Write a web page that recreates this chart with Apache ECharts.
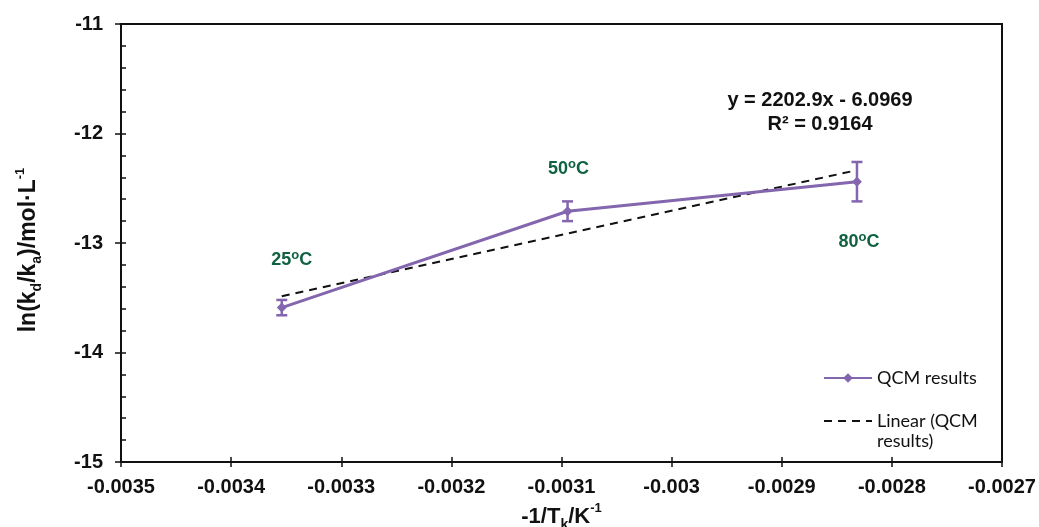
<!DOCTYPE html>
<html>
<head>
<meta charset="utf-8">
<script src="https://cdn.jsdelivr.net/npm/echarts@6/dist/echarts.min.js"></script>
<style>
  html, body { margin: 0; padding: 0; background: #ffffff; }
  #chart { width: 1039px; height: 527px; }
</style>
</head>
<body>
<div id="chart"></div>
<script>
// Measured points: temperature, inverse temperature and log ratio with error
const tempLabels = ['25', '50', '80'];
const invTemp = [-0.003354, -0.0030945, -0.0028317];
const lnRatio = [-13.59, -12.71, -12.44];
const lnRatioErr = [0.07, 0.09, 0.18];

// Linear trend line as reported
const fitSlope = 2202.9;
const fitIntercept = -6.0969;
const fitR2 = '0.9164';

const seriesNames = ['QCM results', 'Linear (QCM\nresults)'];

const purple = '#8466ae';
const green = '#106242';
const boldFont = 'Liberation Sans';

const pointData = invTemp.map((x, i) => [x, lnRatio[i]]);
const errData = invTemp.map((x, i) => [x, lnRatio[i] - lnRatioErr[i], lnRatio[i] + lnRatioErr[i]]);
const fitX = [invTemp[0], invTemp[invTemp.length - 1]];
const fitData = fitX.map(x => [x, fitSlope * x + fitIntercept]);

// Offsets of the temperature captions relative to their points
const captionOffsets = [[10, -48], [1, -42], [2, 60]];

const chart = echarts.init(document.getElementById('chart'));

const fmtX = v => String(+v.toFixed(4));

const titleRich = size => ({
  sub: { fontFamily: boldFont, fontWeight: 'bold', fontSize: Math.round(size * 0.62), lineHeight: 30, verticalAlign: 'bottom', color: '#111' },
  sup: { fontFamily: boldFont, fontWeight: 'bold', fontSize: Math.round(size * 0.58), lineHeight: 30, verticalAlign: 'top', color: '#111' }
});

const legendText = { fontFamily: 'Lato', fontSize: 18, color: '#111', lineHeight: 20 };

chart.setOption({
  animation: false,
  backgroundColor: '#ffffff',
  grid: {
    left: 121, right: 37, top: 24, bottom: 65,
    outerBoundsMode: 'none',
    containLabel: false,
    show: true, borderColor: '#111', borderWidth: 2, backgroundColor: 'transparent'
  },
  xAxis: [
    {
      type: 'value', min: -0.0035, max: -0.0027, interval: 0.0001,
      position: 'bottom',
      axisLine: { show: true, onZero: false, lineStyle: { color: '#111', width: 2 } },
      axisTick: { show: true, inside: false, length: 5, lineStyle: { color: '#111', width: 1.5 } },
      splitLine: { show: false },
      axisLabel: {
        margin: 15, color: '#111', fontFamily: boldFont, fontWeight: 'bold', fontSize: 20,
        formatter: fmtX
      },
      name: '-1/T{sub|k}/K{sup|-1}',
      nameLocation: 'middle',
      nameGap: 39,
      nameTextStyle: {
        color: '#111', fontFamily: boldFont, fontWeight: 'bold', fontSize: 22, lineHeight: 30,
        rich: titleRich(22)
      }
    },
    {
      type: 'value', min: -0.0035, max: -0.0027, interval: 0.0001,
      position: 'bottom',
      axisLine: { show: false, onZero: false },
      axisTick: { show: true, inside: true, length: 5, lineStyle: { color: '#111', width: 1.5 } },
      axisLabel: { show: false },
      splitLine: { show: false }
    }
  ],
  yAxis: [
    {
      type: 'value', min: -15, max: -11, interval: 1,
      position: 'left',
      axisLine: { show: true, onZero: false, lineStyle: { color: '#111', width: 2 } },
      axisTick: { show: true, inside: false, length: 6, lineStyle: { color: '#111', width: 1.5 } },
      splitLine: { show: false },
      axisLabel: { margin: 18, color: '#111', fontFamily: boldFont, fontWeight: 'bold', fontSize: 20 },
      name: 'ln(k{sub|d}/k{sub|a})/mol·L{sup|-1}',
      nameLocation: 'middle',
      nameRotate: 90,
      nameGap: 77,
      nameTextStyle: {
        color: '#111', fontFamily: boldFont, fontWeight: 'bold', fontSize: 23, lineHeight: 30,
        padding: [0, 14, 0, 0],
        rich: titleRich(23)
      }
    },
    {
      type: 'value', min: -15, max: -11, interval: 0.2,
      position: 'left',
      axisLine: { show: false, onZero: false },
      axisTick: { show: true, inside: true, length: 5, lineStyle: { color: '#111', width: 1.5 } },
      axisLabel: { show: false },
      splitLine: { show: false }
    }
  ],
  legend: [
    {
      orient: 'vertical',
      left: 818,
      top: 363,
      itemWidth: 48,
      itemHeight: 12,
      data: [seriesNames[0]],
      textStyle: legendText
    },
    {
      // two-line entry: a leading blank line keeps the first text line level with the dashed icon
      orient: 'vertical',
      left: 818,
      top: 386,
      itemWidth: 48,
      itemHeight: 12,
      data: [{ name: seriesNames[1], itemStyle: { color: 'transparent', opacity: 0, borderWidth: 0 } }],
      formatter: name => '\n' + name,
      textStyle: legendText
    }
  ],
  graphic: [
    {
      type: 'text',
      style: {
        text: 'y = ' + fitSlope + 'x - ' + Math.abs(fitIntercept) + '\nR² = ' + fitR2,
        x: 820, y: 88, align: 'center', verticalAlign: 'top',
        font: 'bold 20px "Liberation Sans"', fill: '#111', lineHeight: 24
      }
    }
  ],
  series: [
    {
      name: seriesNames[1],
      type: 'line',
      data: fitData,
      symbol: 'none',
      lineStyle: { color: '#111', width: 2, type: [8, 6] },
      itemStyle: { color: '#111' },
      z: 2
    },
    {
      name: seriesNames[0],
      type: 'line',
      data: pointData,
      symbol: 'diamond',
      symbolSize: 10,
      lineStyle: { color: purple, width: 3 },
      itemStyle: { color: purple },
      z: 3
    },
    {
      name: 'error',
      type: 'custom',
      data: errData,
      z: 4,
      renderItem: function (params, api) {
        const x = api.value(0);
        const lo = api.coord([x, api.value(1)]);
        const hi = api.coord([x, api.value(2)]);
        const cap = 5.5;
        const st = { stroke: purple, lineWidth: 2.5 };
        return {
          type: 'group',
          children: [
            { type: 'line', shape: { x1: lo[0], y1: lo[1], x2: hi[0], y2: hi[1] }, style: st },
            { type: 'line', shape: { x1: lo[0] - cap, y1: lo[1], x2: lo[0] + cap, y2: lo[1] }, style: st },
            { type: 'line', shape: { x1: hi[0] - cap, y1: hi[1], x2: hi[0] + cap, y2: hi[1] }, style: st }
          ]
        };
      }
    },
    {
      name: 'temperature',
      type: 'scatter',
      symbolSize: 0,
      silent: true,
      itemStyle: { opacity: 1 },
      data: pointData.map((p, i) => ({
        value: p,
        label: {
          show: true,
          position: 'inside',
          offset: captionOffsets[i],
          opacity: 1,
          formatter: '{n|' + tempLabels[i] + '}{o|o}{n|C}',
          rich: {
            n: { fontFamily: boldFont, fontWeight: 'bold', fontSize: 18, color: green, lineHeight: 22 },
            o: { fontFamily: boldFont, fontWeight: 'bold', fontSize: 13, color: green, lineHeight: 22, verticalAlign: 'top' }
          }
        }
      })),
      z: 5
    }
  ]
});
</script>
</body>
</html>
